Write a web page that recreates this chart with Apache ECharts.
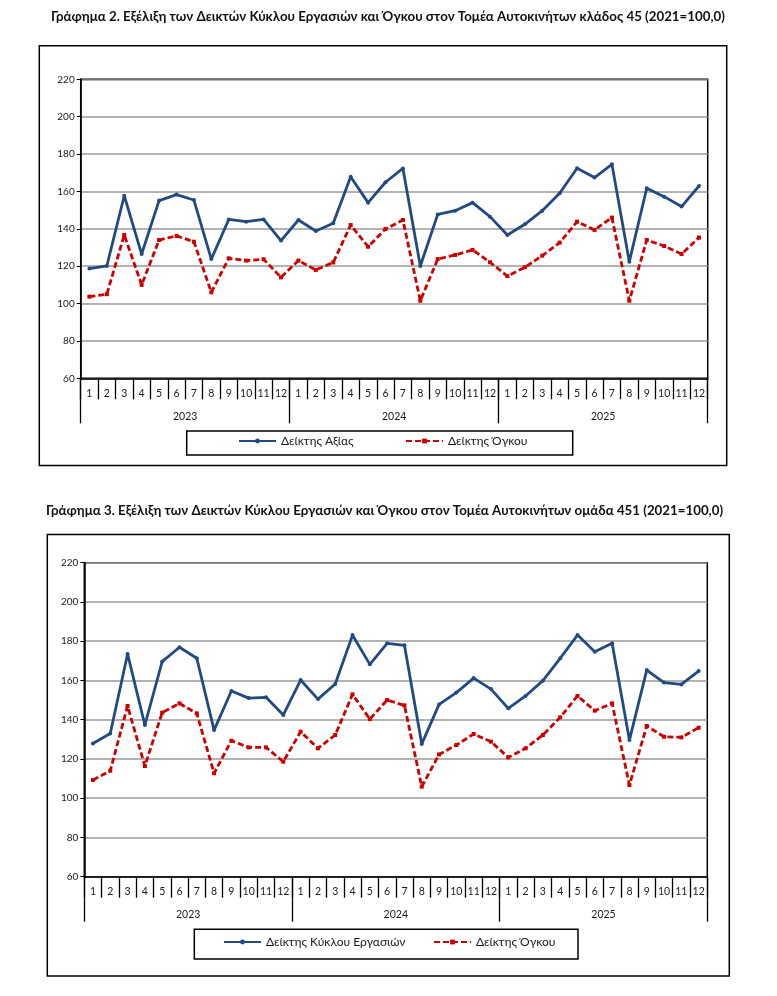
<!DOCTYPE html>
<html>
<head>
<meta charset="utf-8">
<script src="https://cdn.jsdelivr.net/npm/echarts@6/dist/echarts.min.js"></script>
<style>
html,body{margin:0;padding:0;background:#fff;}
#c{width:777px;height:996px;}
</style>
</head>
<body>
<div id="c"></div>
<script>
// ---- data ----
const monthLabels = ['1','2','3','4','5','6','7','8','9','10','11','12'];
const years = ['2023','2024','2025'];
const yTicks = { min: 60, max: 220, step: 20 };

const title2 = ['Γράφημα 2.', 'Εξέλιξη των Δεικτών Κύκλου Εργασιών και Όγκου στον Τομέα Αυτοκινήτων κλάδος 45 (2021=100,0)'];
const title3 = ['Γράφημα 3.', 'Εξέλιξη των Δεικτών Κύκλου Εργασιών και Όγκου στον Τομέα Αυτοκινήτων ομάδα 451 (2021=100,0)'];

const names45 = ['Δείκτης Αξίας', 'Δείκτης Όγκου'];
const names451 = ['Δείκτης Κύκλου Εργασιών', 'Δείκτης Όγκου '];

const value45 = [118.7,120.1,157.7,126.5,155.1,158.3,155.4,123.8,145.0,143.8,145.0,133.7,
                 144.7,138.8,143.0,167.9,154.0,164.9,172.3,120.1,147.7,149.7,154.0,146.5,
                 136.7,142.4,149.7,159.0,172.4,167.4,174.5,122.4,161.7,157.2,151.9,162.9];
const volume45 = [103.7,105.0,136.7,110.0,134.0,136.2,133.1,106.0,124.2,123.0,123.7,114.0,
                  123.0,118.0,122.0,142.0,130.4,139.9,144.7,101.5,123.8,126.0,128.7,122.1,
                  114.7,119.4,125.6,132.6,143.8,139.4,146.0,101.5,134.0,130.8,126.5,135.3];

const turnover451 = [127.9,133.0,173.5,137.3,169.6,176.9,171.3,134.7,154.6,151.0,151.4,142.4,
                     160.2,150.5,158.2,183.1,168.2,178.9,177.9,127.6,147.8,153.8,161.2,155.6,
                     145.8,152.1,159.9,171.3,183.1,174.6,178.9,129.6,165.3,158.9,158.0,164.8];
const volume451 = [109.3,114.0,147.0,116.4,143.6,148.3,143.2,112.7,129.3,125.9,125.9,118.6,
                   133.9,125.4,132.2,152.9,140.3,150.0,147.3,105.9,122.3,127.1,132.7,128.8,
                   120.8,125.4,132.2,141.2,152.1,144.6,148.3,106.7,136.8,131.3,131.0,135.9];

// ---- build ----
const allMonths = [];
years.forEach(() => monthLabels.forEach(m => allMonths.push(m)));

const FONT = 'Lato, "Open Sans", sans-serif';
const BLUE = '#214a80';
const RED = '#cc0000';
const TXT = '#1a1a1a';

function monthAxis(g, margin) {
  return {
    type: 'category', gridIndex: g, position: 'bottom', data: allMonths, boundaryGap: true,
    axisLine: { show: true, lineStyle: { color: '#000', width: 1.5 } },
    axisTick: { show: true, interval: 0, length: 21, lineStyle: { color: '#000', width: 1.3 } },
    axisLabel: { interval: 0, margin: margin, fontSize: 10.5, color: TXT, fontFamily: FONT }
  };
}
function yearAxis(g, margin) {
  return {
    type: 'category', gridIndex: g, position: 'bottom', data: years, boundaryGap: true,
    axisLine: { show: false },
    axisTick: { show: true, interval: 0, length: 45, lineStyle: { color: '#000', width: 1.3 } },
    axisLabel: { interval: 0, margin: margin, fontSize: 10.5, color: TXT, fontFamily: FONT }
  };
}
function valAxis(g) {
  return {
    type: 'value', gridIndex: g, min: yTicks.min, max: yTicks.max, interval: yTicks.step,
    axisLine: { show: true, lineStyle: { color: '#000', width: 1.5 } },
    axisTick: { show: true, length: 4, lineStyle: { color: '#000' } },
    splitLine: { show: true, lineStyle: { color: '#9a9a9a', width: 1.5 } },
    axisLabel: { margin: 6, fontSize: 10, color: TXT, fontFamily: FONT }
  };
}
function lineSeries(name, data, xi, yi, color, dashed) {
  return {
    type: 'line', name: name, data: data, xAxisIndex: xi, yAxisIndex: yi,
    symbol: dashed ? 'rect' : 'circle', symbolSize: 4, showSymbol: true,
    itemStyle: { color: color },
    lineStyle: { color: color, width: 2.8, type: dashed ? [6, 3] : 'solid' },
    animation: false
  };
}
function titleText(t, left, top) {
  return {
    text: '{b|' + t[0] + '}{r| ' + t[1] + '}', left: left, top: top,
    textStyle: { rich: {
      b: { fontWeight: 'bold', fontSize: 13.3, color: '#111', fontFamily: FONT },
      r: { fontSize: 13.3, color: '#111', fontFamily: FONT }
    } }
  };
}
function legendItem(name, left, top) {
  return {
    data: [name], left: left, top: top, padding: 0, itemWidth: 37, itemHeight: 6,
    selectedMode: false,
    textStyle: { fontSize: 12, color: TXT, fontFamily: FONT }
  };
}

const option = {
  backgroundColor: '#fff',
  animation: false,
  title: [ titleText(title2, 46, 5), titleText(title3, 41, 499) ],
  grid: [
    { left: 80.7, top: 79.3, right: 69.3, bottom: 617.7, show: true, borderColor: '#000', borderWidth: 1.5, backgroundColor: '#fff' },
    { left: 84.3, top: 562.7, right: 69.7, bottom: 119.3, show: true, borderColor: '#000', borderWidth: 1.5, backgroundColor: '#fff' }
  ],
  xAxis: [ monthAxis(0, 10), yearAxis(0, 33), monthAxis(1, 9), yearAxis(1, 32) ],
  yAxis: [ valAxis(0), valAxis(1) ],
  legend: [
    legendItem(names45[0], 238, 435),
    legendItem(names45[1], 405, 435),
    legendItem(names451[0], 223, 936),
    legendItem(names451[1], 433, 936)
  ],
  graphic: [
    { type: 'rect', shape: { x: 39.3, y: 45.7, width: 687.4, height: 419.8 }, style: { fill: null, stroke: '#000', lineWidth: 1.5 }, z: -1 },
    { type: 'rect', shape: { x: 186.7, y: 431, width: 386, height: 24 }, style: { fill: null, stroke: '#000', lineWidth: 1.5 } },
    { type: 'rect', shape: { x: 47.3, y: 534.5, width: 682, height: 441.5 }, style: { fill: null, stroke: '#000', lineWidth: 1.5 }, z: -1 },
    { type: 'rect', shape: { x: 194.3, y: 929.3, width: 383.7, height: 29.7 }, style: { fill: null, stroke: '#000', lineWidth: 1.5 } }
  ],
  series: [
    lineSeries(names45[0], value45, 0, 0, BLUE, false),
    lineSeries(names45[1], volume45, 0, 0, RED, true),
    lineSeries(names451[0], turnover451, 2, 1, BLUE, false),
    lineSeries(names451[1], volume451, 2, 1, RED, true)
  ]
};

const chart = echarts.init(document.getElementById('c'), null, { renderer: 'canvas' });
chart.setOption(option);
</script>
</body>
</html>
